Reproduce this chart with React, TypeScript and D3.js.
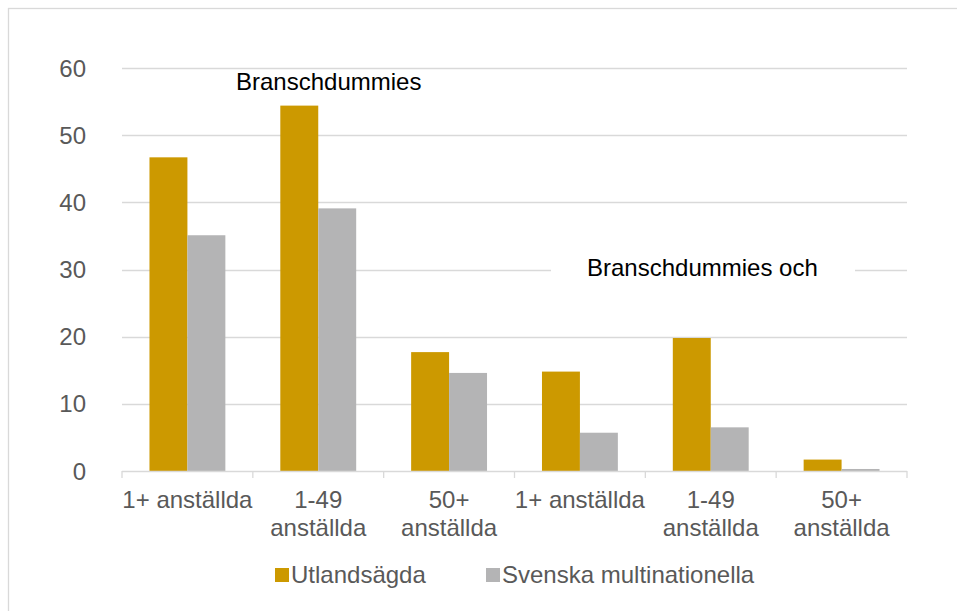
import React from 'react'
import * as d3 from 'd3'

// kategorier (x-axeln), varje etikett uppdelad i rader
const categories = ['1+ anställda', '1-49 anställda', '50+ anställda', '1+ anställda', '1-49 anställda', '50+ anställda']
const tickLines = [['1+ anställda'], ['1-49', 'anställda'], ['50+', 'anställda'], ['1+ anställda'], ['1-49', 'anställda'], ['50+', 'anställda']]

const seriesNames = ['Utlandsägda', 'Svenska multinationella']
const utlandsagda = [46.7, 54.4, 17.7, 14.8, 19.8, 1.7]
const svenska = [35.1, 39.1, 14.6, 5.7, 6.5, 0.3]
const yTicks = [0, 10, 20, 30, 40, 50, 60]

const colors = ['#CC9900', '#B4B4B5']
const font = "'Liberation Sans', Arial, sans-serif"
const fs = 24

function App() {
  const W = 957
  const H = 611
  const plot = { left: 122, right: 907, top: 68, bottom: 471 }

  const x0 = d3.scaleBand<number>()
    .domain(categories.map((_, i) => i))
    .range([plot.left, plot.right])
    .paddingInner(0.42)
    .paddingOuter(0.21)

  const x1 = d3.scaleBand<number>()
    .domain([0, 1])
    .range([0, x0.bandwidth()])

  const y = d3.scaleLinear().domain([0, 60]).range([plot.bottom, plot.top])

  const series = [utlandsagda, svenska]
  const step = x0.step()
  const boundaries = d3.range(categories.length + 1).map(i => plot.left + i * step)

  return (
    <svg width={W} height={H} style={{ position: 'absolute', left: 0, top: 0, background: '#fff' }} fontFamily={font}>
      <rect x={8.5} y={8.5} width={W + 10} height={H + 10} fill="#fff" stroke="#D9D9D9" strokeWidth={1.3} />

      {/* rutnät */}
      {yTicks.filter(t => t > 0).map(t => (
        <line key={t} x1={plot.left} x2={plot.right} y1={Math.round(y(t)) + 0.5} y2={Math.round(y(t)) + 0.5} stroke="#D9D9D9" strokeWidth={1.3} />
      ))}

      {/* y-etiketter */}
      {yTicks.map(t => (
        <text key={t} x={86} y={y(t)} dy="0.36em" textAnchor="end" fontSize={fs} fill="#595959">{t}</text>
      ))}

      {/* staplar */}
      {series.map((vals, s) => vals.map((v, i) => (
        <rect key={s + '-' + i}
          x={(x0(i) as number) + (x1(s) as number)}
          y={y(v)}
          width={x1.bandwidth()}
          height={y(0) - y(v)}
          fill={colors[s]} />
      )))}

      {/* x-axel */}
      <line x1={plot.left} x2={plot.right} y1={plot.bottom + 0.5} y2={plot.bottom + 0.5} stroke="#D9D9D9" strokeWidth={1.3} />
      {boundaries.map((bx, i) => (
        <line key={i} x1={bx} x2={bx} y1={plot.bottom} y2={plot.bottom + 7} stroke="#D9D9D9" strokeWidth={1.3} />
      ))}
      {tickLines.map((lines, i) => (
        <text key={i} x={(x0(i) as number) + x0.bandwidth() / 2} y={508} textAnchor="middle" fontSize={fs} fill="#595959">
          {lines.map((l, j) => (
            <tspan key={j} x={(x0(i) as number) + x0.bandwidth() / 2} dy={j === 0 ? 0 : 27.5}>{l}</tspan>
          ))}
        </text>
      ))}

      {/* textrutor */}
      <text x={236} y={90} fontSize={fs} fill="#000">Branschdummies</text>
      <rect x={551} y={252} width={304} height={32} fill="#fff" />
      <text x={587} y={276} fontSize={fs} fill="#000">Branschdummies och</text>

      {/* förklaring */}
      {seriesNames.map((name, s) => {
        const lx = s === 0 ? 275 : 486
        return (
          <g key={name}>
            <rect x={lx} y={568} width={14} height={14} fill={colors[s]} />
            <text x={lx + 16} y={583} fontSize={fs} fill="#595959">{name}</text>
          </g>
        )
      })}
    </svg>
  )
}

export default App
